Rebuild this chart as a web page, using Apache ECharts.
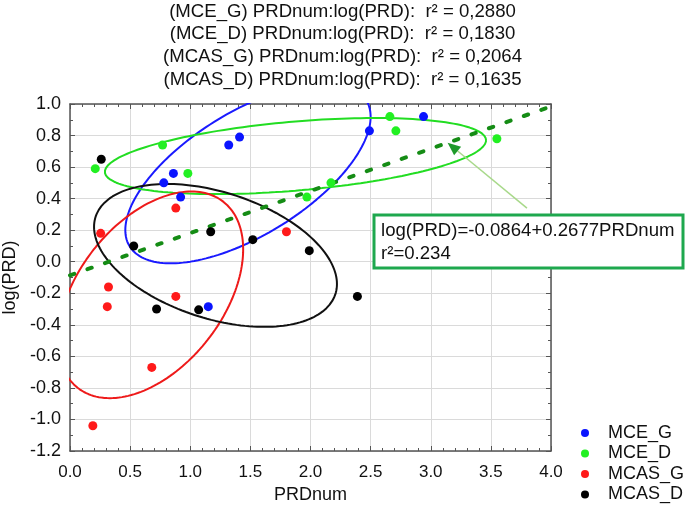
<!DOCTYPE html>
<html><head><meta charset="utf-8">
<script src="https://cdn.jsdelivr.net/npm/echarts@6/dist/echarts.min.js"></script>
<style>html,body{margin:0;padding:0;background:#fff}#c{width:685px;height:507px}</style>
</head><body><div id="c"></div>
<script>
// ---- data ----
const groupNames = ['MCE_G', 'MCE_D', 'MCAS_G', 'MCAS_D'];
const groupR2 = ['0,2880', '0,1830', '0,2064', '0,1635'];
const mceG = [[2.94,0.92],[2.49,0.83],[1.32,0.74],[1.41,0.79],[0.86,0.56],[0.78,0.50],[0.92,0.41],[1.15,-0.285]];
const mceD = [[0.21,0.59],[0.77,0.74],[0.98,0.56],[1.97,0.41],[2.17,0.50],[2.66,0.92],[2.71,0.83],[3.55,0.78]];
const mcasG = [[0.88,0.34],[0.255,0.18],[1.80,0.19],[0.32,-0.16],[0.31,-0.285],[0.88,-0.22],[0.68,-0.67],[0.19,-1.04]];
const mcasD = [[0.26,0.65],[0.53,0.10],[1.17,0.19],[1.52,0.14],[1.99,0.07],[0.72,-0.30],[1.07,-0.305],[2.39,-0.22]];
// ellipse parameters per group: centre, half extents, correlation
const ellCX  = [1.48, 1.875, 0.67, 1.21];
const ellCY  = [0.56, 0.67, -0.21, 0.04];
const ellHX  = [1.02, 1.585, 0.77, 1.01];
const ellHY  = [0.57, 0.241, 0.655, 0.453];
const ellRho = [0.63, 0.415, 0.44, -0.40];
// regression fit
const regIntercept = -0.0864;
const regSlope = 0.2677;
const regR2 = '0.234';
const regRange = [0, 4];
const arrowFrom = [3.80, 0.34];
const arrowToX = 3.14;

const pointColors = ['#0a14ff', '#22f022', '#ff1a1a', '#000000'];
const ellColors = ['#1a1aff', '#22dd22', '#ee1a1a', '#111111'];
const groupData = [mceG, mceD, mcasG, mcasD];

function ellipsePts(i) {
  const pts = [];
  const s = Math.sqrt(1 - ellRho[i] * ellRho[i]);
  for (let k = 0; k <= 180; k++) {
    const t = k / 180 * Math.PI * 2;
    pts.push([ellCX[i] + ellHX[i] * Math.cos(t),
              ellCY[i] + ellHY[i] * (ellRho[i] * Math.cos(t) + s * Math.sin(t))]);
  }
  return pts;
}

const FONT = 'Liberation Sans, Arial, sans-serif';
const chart = echarts.init(document.getElementById('c'), null, {renderer: 'canvas'});

const series = [];
groupNames.forEach((n, i) => {
  series.push({
    name: n + ' ellipse', type: 'line', data: ellipsePts(i), showSymbol: false,
    symbol: 'none', clip: true, z: 1, silent: true,
    lineStyle: {color: ellColors[i], width: 2}
  });
});
series.push({
  name: 'fit', type: 'line', symbol: 'none', clip: true, z: 2, silent: true,
  data: regRange.map(x => [x, regIntercept + regSlope * x]),
  lineStyle: {color: '#158c15', width: 4, type: [4.5, 14], cap: 'round'}
});
groupNames.forEach((n, i) => {
  series.push({
    name: n, type: 'scatter', data: groupData[i], symbol: 'circle', symbolSize: 9,
    z: 3, itemStyle: {color: pointColors[i], opacity: 1}
  });
});

const axisCommon = {
  axisLine: {show: true, onZero: false, lineStyle: {color: '#555', width: 1.5}},
  axisTick: {show: true, inside: true, length: 5, lineStyle: {color: '#555', width: 1}},
};

chart.setOption({
  animation: false,
  backgroundColor: '#fff',
  title: {
    text: groupNames.map((n, i) => '(' + n + ') PRDnum:log(PRD):  r² = ' + groupR2[i]).join('\n'),
    left: 'center', top: 0, padding: [0, 0, 0, 11],
    textStyle: {fontFamily: FONT, fontSize: 18.6, fontWeight: 'normal', color: '#111', lineHeight: 22.8}
  },
  legend: {
    data: groupNames, orient: 'vertical', left: 581, top: 424, padding: 0,
    icon: 'circle', itemWidth: 22, itemHeight: 8, itemGap: 2.5,
    textStyle: {fontFamily: FONT, fontSize: 18, color: '#111', lineHeight: 18, padding: [0, 0, 0, 7]}
  },
  grid: {left: 70, right: 134, top: 104, bottom: 56, containLabel: false, outerBoundsMode: 'none'},
  xAxis: [
    Object.assign({
      type: 'value', min: 0, max: 4, interval: 0.5, position: 'bottom',
      name: 'PRDnum', nameLocation: 'middle', nameGap: 35,
      nameTextStyle: {fontFamily: FONT, fontSize: 18, color: '#111'},
      axisLabel: {fontFamily: FONT, fontSize: 17, color: '#111', margin: 13, formatter: v => v.toFixed(1)},
      splitLine: {show: true, lineStyle: {color: '#dadada', width: 1}},
    }, axisCommon, {minorTick: {show: true, splitNumber: 5, length: 3, lineStyle: {color: '#555'}}}),
    Object.assign({
      type: 'value', min: 0, max: 4, interval: 0.5, position: 'top',
      axisLabel: {show: false}, splitLine: {show: false}
    }, axisCommon, {minorTick: {show: true, splitNumber: 5, length: 3, lineStyle: {color: '#555'}}})
  ],
  yAxis: [
    Object.assign({
      type: 'value', min: -1.2, max: 1.0, interval: 0.2, position: 'left',
      name: 'log(PRD)', nameLocation: 'middle', nameGap: 49,
      nameTextStyle: {fontFamily: FONT, fontSize: 18, color: '#111'},
      axisLabel: {fontFamily: FONT, fontSize: 18, color: '#111', margin: 9, formatter: v => v.toFixed(1)},
      splitLine: {show: true, lineStyle: {color: '#dadada', width: 1}},
    }, axisCommon, {minorTick: {show: true, splitNumber: 2, length: 3, lineStyle: {color: '#555'}}}),
    Object.assign({
      type: 'value', min: -1.2, max: 1.0, interval: 0.2, position: 'right',
      axisLabel: {show: false}, splitLine: {show: false}
    }, axisCommon, {minorTick: {show: true, splitNumber: 2, length: 3, lineStyle: {color: '#555'}}})
  ],
  series: series
});

// annotation: arrow + box
const p1 = chart.convertToPixel({xAxisIndex: 0, yAxisIndex: 0}, arrowFrom);
const p2 = chart.convertToPixel({xAxisIndex: 0, yAxisIndex: 0}, [arrowToX, regIntercept + regSlope * arrowToX]);
const dx = p1[0] - p2[0], dy = p1[1] - p2[1];
const L = Math.sqrt(dx * dx + dy * dy);
const ux = dx / L, uy = dy / L;
const hl = 13, hw = 5.5;
const base = [p2[0] + ux * hl, p2[1] + uy * hl];
chart.setOption({
  graphic: [
    {type: 'line', z: 50, shape: {x1: p1[0], y1: p1[1], x2: base[0], y2: base[1]},
     style: {stroke: '#a8d98a', lineWidth: 1.5}},
    {type: 'polygon', z: 51, shape: {points: [p2, [base[0] - uy * hw, base[1] + ux * hw], [base[0] + uy * hw, base[1] - ux * hw]]},
     style: {fill: '#1f9a2a'}},
    {type: 'rect', z: 52, shape: {x: 374, y: 215, width: 309, height: 53},
     style: {fill: '#fff', stroke: '#1ea84e', lineWidth: 3}},
    {type: 'text', z: 53, x: 381, y: 220,
     style: {text: 'log(PRD)=' + regIntercept + '+' + regSlope + 'PRDnum\nr²=' + regR2,
             font: '18.6px ' + FONT, fill: '#111', lineHeight: 22.5}}
  ]
});
</script></body></html>
